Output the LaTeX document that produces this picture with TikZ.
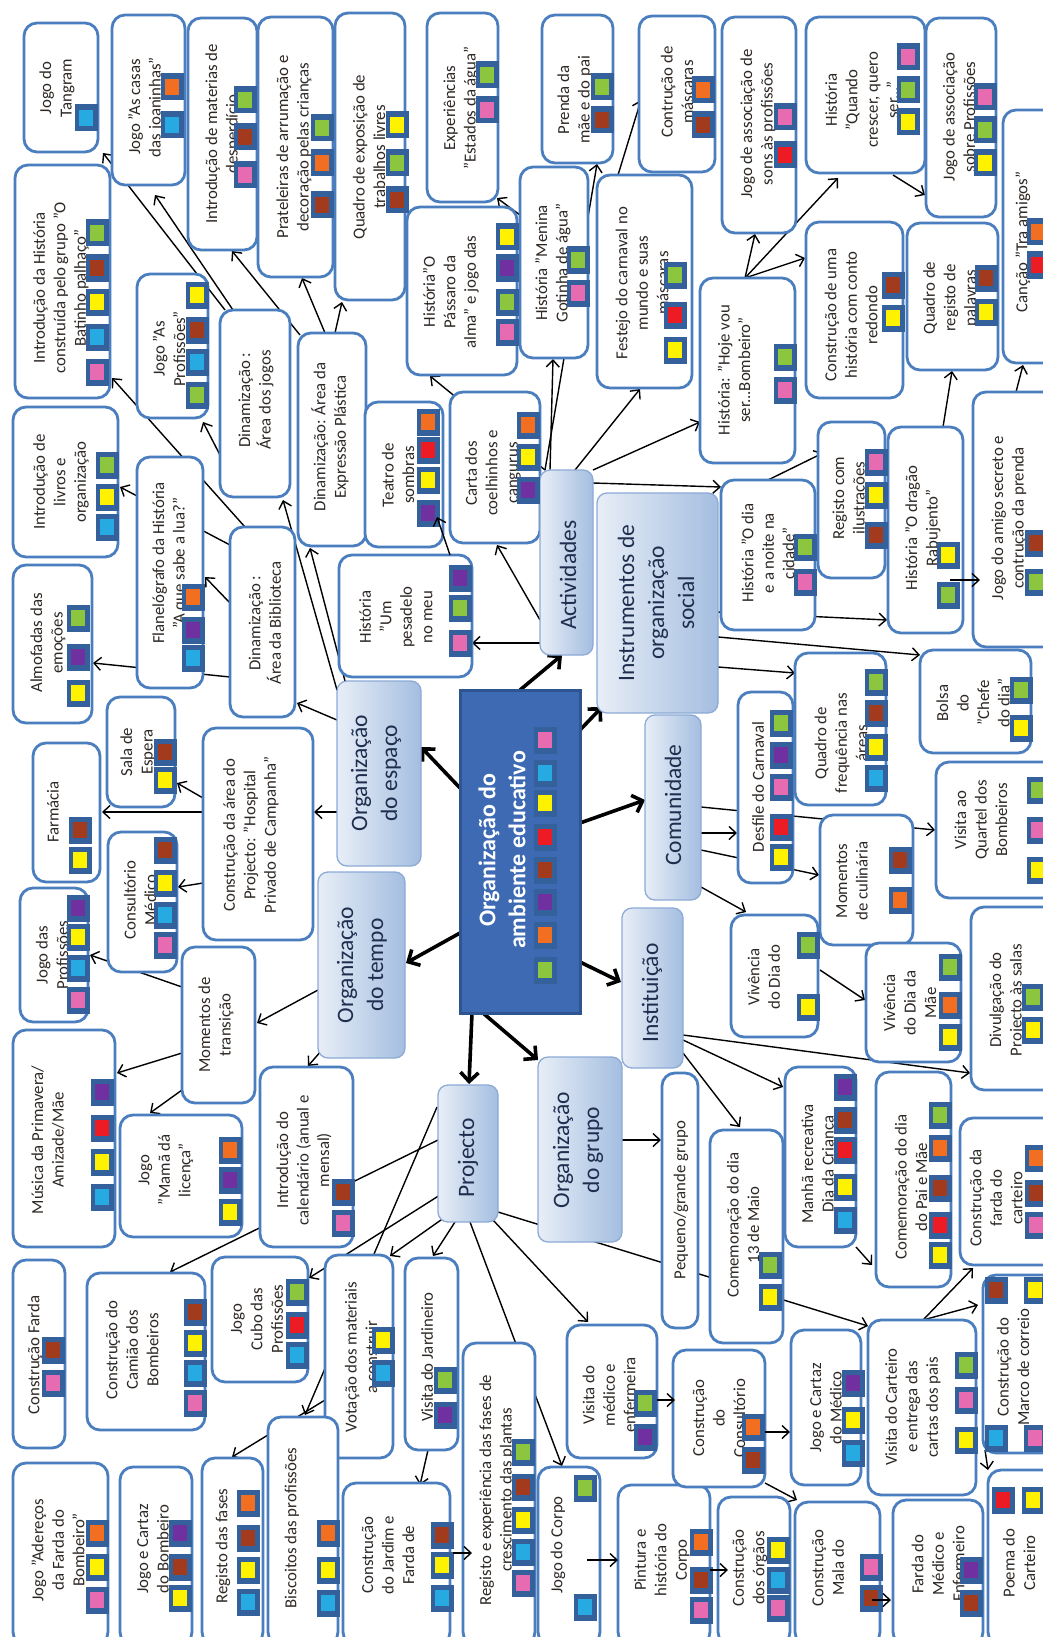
\documentclass[tikz,border=0pt]{standalone}
\usepackage{fontspec}
\setmainfont{Carlito}
\usetikzlibrary{arrows.meta,calc}
\pgfdeclarelayer{bg}
\pgfsetlayers{bg,main}
\definecolor{boxb}{HTML}{4A7EBF}
\definecolor{catL}{HTML}{E8EEF7}
\definecolor{catR}{HTML}{A4BEE0}
\definecolor{catB}{HTML}{8DAAD6}
\definecolor{cenF}{HTML}{3D6AB3}
\definecolor{cenB}{HTML}{2D5590}
\definecolor{sqf}{HTML}{34609B}
\definecolor{txtc}{HTML}{2E2824}
\definecolor{cattxt}{HTML}{1F2E4E}
\definecolor{cG}{HTML}{8CC63F}
\definecolor{cB}{HTML}{A23B1E}
\definecolor{cY}{HTML}{FFF200}
\definecolor{cC}{HTML}{27AAE1}
\definecolor{cP}{HTML}{E66BB0}
\definecolor{cR}{HTML}{ED1C24}
\definecolor{cV}{HTML}{7030A0}
\definecolor{cO}{HTML}{F26F21}
\tikzset{
 bxs/.style={draw=boxb, line width=2.8pt, rounded corners=13pt, fill=white, inner sep=0pt},
 bxt/.style={rotate=90, align=center, inner sep=0pt, text=txtc, font=\fontsize{16.8}{20.5}\selectfont},
 cats/.style={draw=catB, line width=1.3pt, rounded corners=10pt, left color=catL, right color=catR, inner sep=0pt},
 catt/.style={rotate=90, align=center, inner sep=0pt, text=cattxt, font=\fontsize{23.5}{30}\selectfont},
 cens/.style={draw=cenB, line width=3pt, fill=cenF, inner sep=0pt},
 cent/.style={rotate=90, align=center, inner sep=0pt, text=white, font=\fontsize{24}{30}\selectfont\bfseries},
 arr/.style={draw=black, line width=1.4pt, -{Straight Barb[length=7pt,width=13pt]}},
 tarr/.style={draw=black, line width=3.6pt, -{Straight Barb[length=9pt,width=18pt]}},
}
\newcommand\bx[8]{%
 \node[bxs, minimum width={(#4)-(#2)}, minimum height={(#5)-(#3)}] (#1) at ({((#2)+(#4))/2},{((#3)+(#5))/2}) {};
 \node[bxt] (#1-t) at (#6,#7) {#8};}
\newcommand\cat[8]{%
 \node[cats, minimum width={(#4)-(#2)}, minimum height={(#5)-(#3)}] (#1) at ({((#2)+(#4))/2},{((#3)+(#5))/2}) {};
 \node[catt] (#1-t) at (#6,#7) {#8};}
\newcommand\sq[3]{%
 \fill[sqf] ({#1-11.5},{#2-13.5}) rectangle ({#1+11.5},{#2+13.5});
 \fill[#3] ({#1-7},{#2-8}) rectangle ({#1+7},{#2+8});}
\newcommand\ar[6]{\draw[arr] ($(#1)+(#2,#3)$) -- ($(#4)+(#5,#6)$);}
\newcommand\tar[6]{\draw[tarr] ($(#1)+(#2,#3)$) -- ($(#4)+(#5,#6)$);}
\begin{document}
\begin{tikzpicture}[x=1pt,y=-1pt]
\useasboundingbox (0,0) rectangle (1043,1637);
% ---- boxes ----
\bx{tangram}{24}{23}{98}{152}{57}{88}{Jogo do\\Tangram}
\bx{casas}{112}{15}{185}{185}{146}{107}{Jogo "As casas\\das joaninhas"}
\bx{materiais}{188}{18}{257}{250}{223}{134}{Introdução de materias de\\desperdício}
\bx{prateleiras}{258}{17}{333}{277}{294}{147}{Prateleiras de arrumação e\\decoração pelas crianças}
\bx{quadroexp}{335}{13}{405}{300}{369}{157}{Quadro de exposição de\\trabalhos livres}
\bx{experiencias}{427}{13}{498}{202}{461}{108}{Experiências\\"Estados da água"}
\bx{prenda}{542}{15}{613}{163}{575}{100}{Prenda da\\mãe e do pai}
\bx{mascaras}{639}{16}{715}{172}{677}{92}{Contrução de\\máscaras}
\bx{sons}{722}{17}{796}{233}{758}{124}{Jogo de associação de\\sons às profissões}
\bx{crescer}{806}{17}{925}{173}{862}{100}{História\\"Quando\\crescer, quero\\ser..."}
\bx{assocprof}{926}{18}{996}{217}{959}{117}{Jogo de associação\\sobre Profissões}
\bx{cancao}{1003}{110}{1060}{363}{1023}{242}{Canção "Tra amigos"}
\bx{conto}{806}{222}{903}{398}{851}{315}{Construção de uma\\história com conto\\redondo}
\bx{quadroreg}{907}{223}{998}{370}{951}{298}{Quadro de\\registo de\\palavras}
\bx{hoje}{700}{278}{795}{463}{734}{370}{História: "Hoje vou\\ser...Bombeiro"}
\bx{introhist}{15}{165}{110}{398}{61}{288}{Introdução da História\\construída pelo grupo "O\\Batinho palhaço"}
\bx{asprof}{137}{274}{208}{418}{169}{349}{Jogo "As\\Profissões"}
\bx{dinjogos}{220}{310}{290}{497}{256}{400}{Dinamização :\\Área dos jogos}
\bx{dinplast}{298}{333}{366}{546}{330}{437}{Dinamização: Área da\\Expressão Plástica}
\bx{passaro}{407}{207}{517}{375}{451}{292}{História"O\\Pássaro da\\alma" e jogo das}
\bx{gotinha}{520}{167}{588}{358}{553}{263}{História "Menina\\Gotinha de água"}
\bx{festejo}{597}{175}{692}{388}{642}{283}{Festejo do carnaval no\\mundo e suas\\máscaras}
\bx{livros}{13}{407}{118}{557}{61}{482}{Introdução de\\livros e\\organização}
\bx{flanelo}{137}{457}{203}{688}{170}{563}{Flanelógrafo da História\\"A que sabe a lua?"}
\bx{almofadas}{13}{565}{92}{723}{48}{643}{Almofadas das\\emoções}
\bx{dinbib}{230}{527}{295}{717}{265}{623}{Dinamização :\\Área da Biblioteca}
\bx{teatro}{365}{402}{443}{547}{398}{475}{Teatro de\\sombras}
\bx{carta}{450}{392}{540}{543}{493}{473}{Carta dos\\coelhinhos e\\cangurus}
\bx{pesadelo}{339}{555}{472}{677}{396}{617}{História\\"Um\\pesadelo\\no meu}
\bx{diaenoite}{721}{480}{815}{630}{768}{553}{História "O dia\\e a noite na\\cidade"}
\bx{regilust}{818}{422}{885}{578}{850}{498}{Registo com\\ilustrações}
\bx{dragao}{888}{427}{963}{633}{923}{528}{História "O dragão\\Rabujento"}
\bx{amigo}{973}{392}{1060}{647}{1009}{518}{Jogo do amigo secreto e\\contrução da prenda}
\bx{bolsa}{920}{650}{1031}{753}{973}{703}{Bolsa\\do\\"Chefe\\do dia"}
\bx{frequencia}{795}{653}{886}{805}{841}{743}{Quadro de\\frequência nas\\áreas}
\bx{desfile}{738}{692}{793}{883}{758}{787}{Desfile do Carnaval}
\bx{quartel}{936}{762}{1060}{898}{981}{820}{Visita ao\\Quartel dos\\Bombeiros}
\bx{espera}{107}{697}{175}{807}{138}{752}{Sala de\\Espera}
\bx{farmacia}{33}{743}{100}{882}{53}{812}{Farmácia}
\bx{area}{203}{728}{313}{940}{251}{835}{Construção da área do\\Projecto: "Hospital\\Privado de Campanha"}
\bx{consultorio}{108}{832}{177}{972}{140}{900}{Consultório\\Médico}
\bx{jogodasprof}{20}{888}{88}{1022}{52}{955}{Jogo das\\Profissões}
\bx{transicao}{182}{947}{255}{1103}{216}{1025}{Momentos de\\transição}
\bx{culinaria}{820}{815}{913}{945}{852}{881}{Momentos\\de culinária}
\bx{vivpai}{731}{915}{818}{1037}{764}{977}{Vivência\\do Dia do}
\bx{vivmae}{866}{943}{961}{1062}{910}{1003}{Vivência\\do Dia da\\Mãe}
\bx{divulgacao}{971}{907}{1060}{1090}{1007}{1000}{Divulgação do\\Projecto às salas}
\bx{musica}{13}{1030}{115}{1247}{48}{1140}{Música da Primavera/\\Amizade/Mãe}
\bx{mama}{120}{1115}{242}{1237}{166}{1170}{Jogo\\"Mamã dá\\licença"}
\bx{calendario}{260}{1067}{353}{1247}{304}{1160}{Introdução do\\calendário (anual e\\mensal)}
\bx{manha}{785}{1067}{856}{1247}{819}{1164}{Manhã recreativa\\Dia da Criança}
\bx{comemoracao}{876}{1072}{951}{1287}{911}{1187}{Comemoração do dia\\do Pai e Mãe}
\bx{fardacarteiro}{960}{1118}{1060}{1265}{996}{1198}{Construção da\\farda do\\carteiro}
\bx{maio}{710}{1130}{783}{1343}{743}{1225}{Comemoração do dia\\13 de Maio}
\bx{pequeno}{662}{1073}{698}{1328}{681}{1200}{Pequeno/grande grupo}
\bx{fardaconst}{13}{1260}{65}{1448}{35}{1355}{Construção Farda}
\bx{camiao}{87}{1273}{205}{1430}{132}{1350}{Construção do\\Camião dos\\Bombeiros}
\bx{cubo}{212}{1257}{308}{1382}{257}{1319}{Jogo\\Cubo das\\Profissões}
\bx{votacao}{325}{1255}{393}{1458}{361}{1357}{Votação dos materiais\\a construir}
\bx{aderecos}{13}{1463}{108}{1645}{58}{1550}{Jogo "Adereços\\da Farda do\\Bombeiro"}
\bx{cartazbomb}{120}{1467}{192}{1645}{153}{1549}{Jogo e Cartaz\\do Bombeiro}
\bx{registofases}{202}{1458}{263}{1645}{223}{1546}{Registo das fases}
\bx{biscoitos}{268}{1417}{338}{1645}{292}{1528}{Biscoitos das profissões}
\bx{jardineiro}{405}{1258}{458}{1450}{427}{1357}{Visita do Jardineiro}
\bx{jardim}{343}{1483}{450}{1645}{388}{1555}{Construção\\do Jardim e\\Farda de}
\bx{plantas}{463}{1343}{535}{1645}{497}{1490}{Registo e experiência das fases de\\crescimento das plantas}
\bx{corpo}{538}{1467}{600}{1645}{558}{1545}{Jogo do Corpo}
\bx{medico}{567}{1325}{657}{1458}{609}{1395}{Visita do\\médico e\\enfermeira}
\bx{pintura}{618}{1485}{710}{1645}{662}{1560}{Pintura e\\história do\\Corpo}
\bx{constconsult}{673}{1350}{765}{1487}{719}{1418}{Construção\\do\\Consultório}
\bx{cartazmed}{791}{1330}{861}{1485}{826}{1408}{Jogo e Cartaz\\do Médico}
\bx{carteiro}{868}{1320}{976}{1495}{913}{1407}{Visita do Carteiro\\e entrega das\\cartas dos pais}
\bx{marco}{983}{1275}{1060}{1453}{1013}{1367}{Construção do\\Marco de correio}
\bx{orgaos}{718}{1497}{790}{1645}{750}{1568}{Construção\\dos órgãos}
\bx{mala}{795}{1502}{880}{1645}{828}{1568}{Construção\\Mala do}
\bx{fardamed}{893}{1500}{983}{1645}{938}{1564}{Farda do\\Médico e\\Enfermeiro}
\bx{poema}{988}{1470}{1060}{1645}{1019}{1563}{Poema do\\Carteiro}
% ---- categories ----
\cat{actividades}{540}{470}{593}{655}{568}{575}{Actividades}
\cat{instrumentos}{597}{493}{718}{713}{656}{603}{Instrumentos de\\organização\\social}
\cat{espaco}{337}{681}{421}{866}{376}{773}{Organização\\do espaço}
\cat{tempo}{318}{872}{405}{1058}{362}{965}{Organização\\do tempo}
\cat{comunidade}{645}{715}{701}{900}{673}{805}{Comunidade}
\cat{instituicao}{622}{908}{683}{1068}{652}{993}{Instituição}
\cat{projecto}{438}{1085}{498}{1222}{468}{1158}{Projecto}
\cat{grupo}{538}{1057}{622}{1242}{578}{1150}{Organização\\do grupo}
\node[cens, minimum width=120, minimum height=323] (central) at (520,851.5) {};
\node[cent] (central-t) at (502,850) {Organização do\\ambiente educativo};
% ---- squares ----
\sq{86}{118}{cC}
\sq{172}{87}{cO}\sq{172}{125}{cC}
\sq{245}{100}{cG}\sq{245}{137}{cB}\sq{245}{175}{cP}
\sq{322}{128}{cG}\sq{322}{163}{cO}\sq{322}{205}{cB}
\sq{397}{125}{cY}\sq{397}{163}{cG}\sq{397}{200}{cB}
\sq{487}{75}{cG}\sq{487}{110}{cP}
\sq{602}{87}{cG}\sq{602}{120}{cB}
\sq{703}{90}{cO}\sq{703}{125}{cB}
\sq{785}{117}{cP}\sq{785}{155}{cR}
\sq{908}{57}{cP}\sq{908}{90}{cG}\sq{908}{122}{cY}
\sq{985}{97}{cP}\sq{985}{130}{cG}\sq{985}{163}{cY}
\sq{1038}{232}{cO}\sq{1038}{265}{cR}
\sq{893}{285}{cB}\sq{893}{318}{cY}
\sq{986}{278}{cB}\sq{986}{312}{cY}
\sq{785}{357}{cG}\sq{785}{390}{cP}
\sq{97}{233}{cG}\sq{97}{268}{cB}\sq{97}{302}{cY}\sq{97}{337}{cC}\sq{97}{372}{cP}
\sq{197}{295}{cY}\sq{197}{330}{cB}\sq{197}{362}{cC}\sq{197}{395}{cG}
\sq{507}{237}{cY}\sq{507}{268}{cV}\sq{507}{302}{cG}\sq{507}{332}{cP}
\sq{578}{260}{cG}\sq{578}{293}{cP}
\sq{675}{275}{cG}\sq{675}{315}{cR}\sq{675}{350}{cY}
\sq{107}{465}{cG}\sq{107}{497}{cY}\sq{107}{527}{cC}
\sq{193}{597}{cO}\sq{193}{630}{cV}\sq{193}{658}{cC}
\sq{78}{618}{cG}\sq{78}{657}{cV}\sq{78}{693}{cY}
\sq{428}{422}{cO}\sq{428}{450}{cR}\sq{428}{480}{cY}\sq{428}{513}{cV}
\sq{528}{425}{cO}\sq{528}{457}{cY}\sq{528}{490}{cV}
\sq{460}{578}{cV}\sq{460}{608}{cG}\sq{460}{643}{cP}
\sq{805}{547}{cG}\sq{805}{582}{cP}
\sq{876}{462}{cP}\sq{876}{495}{cY}\sq{876}{535}{cB}
\sq{948}{555}{cY}\sq{948}{595}{cG}
\sq{1036}{543}{cB}\sq{1036}{582}{cG}
\sq{1021}{690}{cG}\sq{1021}{728}{cY}
\sq{876}{682}{cG}\sq{876}{713}{cB}\sq{876}{747}{cY}\sq{876}{778}{cC}
\sq{781}{723}{cG}\sq{781}{755}{cV}\sq{781}{787}{cP}\sq{781}{827}{cR}\sq{781}{857}{cY}
\sq{1038}{790}{cG}\sq{1038}{830}{cP}\sq{1038}{870}{cY}
\sq{165}{752}{cB}\sq{165}{780}{cY}
\sq{80}{830}{cB}\sq{80}{860}{cY}
\sq{165}{850}{cB}\sq{165}{883}{cY}\sq{165}{915}{cC}\sq{165}{945}{cP}
\sq{78}{908}{cV}\sq{78}{937}{cY}\sq{78}{968}{cC}\sq{78}{1000}{cP}
\sq{545}{740}{cP}\sq{545}{773}{cC}\sq{545}{803}{cY}\sq{545}{837}{cR}\sq{545}{870}{cB}\sq{545}{902}{cV}\sq{545}{935}{cO}\sq{545}{970}{cG}
\sq{900}{860}{cB}\sq{900}{900}{cO}
\sq{808}{945}{cG}\sq{808}{1007}{cY}
\sq{950}{967}{cG}\sq{950}{1005}{cO}\sq{950}{1037}{cY}
\sq{1033}{997}{cG}\sq{1033}{1030}{cY}
\sq{102}{1092}{cV}\sq{102}{1128}{cR}\sq{102}{1162}{cY}\sq{102}{1197}{cC}
\sq{230}{1150}{cO}\sq{230}{1180}{cV}\sq{230}{1212}{cY}
\sq{343}{1192}{cB}\sq{343}{1223}{cP}
\sq{845}{1087}{cV}\sq{845}{1120}{cB}\sq{845}{1150}{cR}\sq{845}{1187}{cY}\sq{845}{1220}{cC}
\sq{940}{1115}{cG}\sq{940}{1148}{cO}\sq{940}{1188}{cB}\sq{940}{1225}{cR}\sq{940}{1255}{cY}
\sq{1036}{1158}{cO}\sq{1036}{1193}{cB}\sq{1036}{1225}{cP}
\sq{770}{1265}{cG}\sq{770}{1297}{cY}
\sq{53}{1350}{cB}\sq{53}{1383}{cP}
\sq{195}{1312}{cB}\sq{195}{1343}{cY}\sq{195}{1373}{cC}\sq{195}{1403}{cP}
\sq{297}{1292}{cG}\sq{297}{1325}{cR}\sq{297}{1355}{cC}
\sq{383}{1340}{cY}\sq{383}{1373}{cC}
\sq{97}{1533}{cO}\sq{97}{1567}{cY}\sq{97}{1600}{cP}
\sq{180}{1533}{cV}\sq{180}{1567}{cB}\sq{180}{1598}{cY}
\sq{248}{1503}{cO}\sq{248}{1538}{cB}\sq{248}{1570}{cY}\sq{248}{1602}{cC}
\sq{328}{1533}{cO}\sq{328}{1570}{cY}\sq{328}{1603}{cC}
\sq{445}{1380}{cG}\sq{445}{1415}{cV}
\sq{442}{1535}{cB}\sq{442}{1565}{cY}\sq{442}{1598}{cC}
\sq{523}{1452}{cG}\sq{523}{1487}{cB}\sq{523}{1520}{cY}\sq{523}{1552}{cC}\sq{523}{1583}{cP}
\sq{585}{1488}{cG}\sq{585}{1607}{cC}
\sq{645}{1403}{cG}\sq{645}{1437}{cV}
\sq{701}{1542}{cO}\sq{701}{1580}{cB}\sq{701}{1610}{cP}
\sq{753}{1427}{cO}\sq{753}{1460}{cB}
\sq{853}{1383}{cV}\sq{853}{1420}{cY}\sq{853}{1453}{cC}
\sq{966}{1365}{cG}\sq{966}{1400}{cP}\sq{966}{1440}{cY}
\sq{996}{1290}{cB}\sq{1035}{1290}{cY}\sq{996}{1438}{cC}\sq{1035}{1438}{cP}
\sq{778}{1550}{cY}\sq{778}{1580}{cC}\sq{778}{1608}{cP}
\sq{871}{1567}{cP}\sq{871}{1598}{cB}
\sq{971}{1570}{cV}\sq{971}{1603}{cB}
\sq{1003}{1500}{cR}\sq{1033}{1500}{cY}
% ---- short arrows on top ----
\ar{pesadelo}{44.5}{-61}{teatro}{33}{42.5}
\ar{dragao}{24.5}{50}{amigo}{-36.5}{60.5}
\ar{jardim}{56.5}{-11}{plantas}{-27}{59}
\ar{corpo}{18}{4}{pintura}{-46}{-5}
\ar{medico}{45}{8.5}{constconsult}{-44}{-18.5}
\ar{constconsult}{46}{13.5}{cartazmed}{-36}{24.5}
\ar{pintura}{46}{5}{orgaos}{-26}{-1}
\ar{mala}{34.5}{26.5}{fardamed}{-47}{27.5}
% ---- connectors under boxes ----
\begin{pgfonlayer}{bg}
\fill[white] (0,0) rectangle (1043,1637);
\tar{central}{0}{-161.5}{actividades}{-4.5}{92.5}
\tar{central}{-60}{-63.5}{espaco}{42}{-26.5}
\tar{central}{60}{-121.5}{instrumentos}{-55.5}{104}
\tar{central}{60}{-28.5}{comunidade}{-28}{-7.5}
\tar{central}{60}{110.5}{instituicao}{-31.5}{-6}
\tar{central}{-60}{81.5}{tempo}{44.5}{-2}
\tar{central}{-48}{161.5}{projecto}{1}{-69.5}
\tar{central}{-37}{161.5}{grupo}{-42}{-89.5}
\ar{actividades}{-21.5}{-92.5}{passaro}{-32}{85}
\ar{actividades}{-16.5}{-92.5}{gotinha}{-1}{96.5}
\ar{actividades}{-21.5}{-92.5}{prenda}{19.5}{75}
\ar{actividades}{8.5}{-92.5}{festejo}{-4.5}{107.5}
\ar{actividades}{26.5}{-92.5}{hoje}{-47.5}{51.5}
\ar{actividades}{26.5}{-79.5}{diaenoite}{-47}{-68}
\ar{actividades}{-26.5}{57.5}{carta}{2}{77.5}
\ar{actividades}{-26.5}{80.5}{pesadelo}{66.5}{27}
\ar{gotinha}{-34}{-47.5}{experiencias}{34.5}{90.5}
\ar{festejo}{-26.5}{-106.5}{mascaras}{-36}{6}
\ar{hoje}{-2.5}{-92.5}{sons}{-4}{109}
\ar{hoje}{-2.5}{-92.5}{crescer}{-27.5}{83}
\ar{hoje}{-2.5}{-92.5}{conto}{-49.5}{-52}
\ar{crescer}{27.5}{80}{assocprof}{-36}{77.5}
\ar{dragao}{17.5}{-103}{quadroreg}{-0.5}{74.5}
\ar{amigo}{-0.5}{-127.5}{cancao}{-8.5}{128.5}
\ar{diaenoite}{0}{-75}{regilust}{-28.5}{-47}
\ar{instrumentos}{60.5}{9}{dragao}{-38.5}{90}
\ar{instrumentos}{60.5}{34}{bolsa}{-55.5}{-46.5}
\ar{instrumentos}{60.5}{64}{frequencia}{-45.5}{-56}
\ar{espaco}{-42}{-53.5}{dinbib}{34.5}{81}
\ar{espaco}{-42}{-83.5}{dinjogos}{28}{96.5}
\ar{espaco}{-34}{-92.5}{dinplast}{-22}{108.5}
\ar{espaco}{-42}{38.5}{area}{56}{-22}
\ar{dinjogos}{-30}{-93.5}{tangram}{42}{65.5}
\ar{dinjogos}{-22}{-93.5}{casas}{6.5}{95}
\ar{dinjogos}{-35}{51.5}{asprof}{30.5}{76}
\ar{dinplast}{-32}{-104.5}{materiais}{9.5}{117}
\ar{dinplast}{-7}{-106.5}{prateleiras}{6.5}{131}
\ar{dinplast}{3}{-106.5}{quadroexp}{-28}{145.5}
\ar{dinbib}{-17.5}{-95}{introhist}{49.5}{96.5}
\ar{dinbib}{-32.5}{-77}{livros}{54.5}{5}
\ar{dinbib}{-32.5}{-19}{flanelo}{35}{4.5}
\ar{dinbib}{-32.5}{55}{almofadas}{40.5}{19}
\ar{area}{-55}{-36}{espera}{36}{31}
\ar{area}{-55}{-22}{farmacia}{35.5}{-0.5}
\ar{area}{-55}{49}{consultorio}{35.5}{-15}
\ar{tempo}{-43.5}{25}{transicao}{38.5}{-2}
\ar{tempo}{-39.5}{85}{calendario}{1.5}{-91}
\ar{transicao}{-36.5}{-38}{jogodasprof}{36}{0}
\ar{transicao}{-36.5}{28}{musica}{53}{-65.5}
\ar{transicao}{-36.5}{65}{mama}{-31}{-63}
\ar{projecto}{-30}{-13.5}{camiao}{24}{-79.5}
\ar{projecto}{-31}{-46.5}{biscoitos}{2}{-116}
\ar{projecto}{-28}{41.5}{cubo}{49}{-41.5}
\ar{projecto}{-20}{61.5}{votacao}{31}{-100.5}
\ar{projecto}{-13}{68.5}{jardineiro}{1.5}{-98}
\ar{votacao}{-34}{43.5}{registofases}{-0.5}{-94.5}
\ar{projecto}{25}{66.5}{medico}{-24}{-69.5}
\ar{projecto}{2}{68.5}{corpo}{-7}{-90}
\ar{projecto}{30}{58.5}{carteiro}{-54}{-81.5}
\ar{grupo}{42}{-9.5}{pequeno}{-19}{-60.5}
\ar{jardineiro}{-3.5}{96}{jardim}{23.5}{-79}
\ar{constconsult}{46}{64.5}{mala}{-40.5}{-73.5}
\ar{carteiro}{1}{-87.5}{marco}{-43.5}{-59}
\ar{carteiro}{1}{-87.5}{fardacarteiro}{-37}{76.5}
\ar{marco}{-36.5}{86}{poema}{-36}{-87.5}
\ar{manha}{35.5}{90}{comemoracao}{-41.5}{85.5}
\ar{comunidade}{28}{25.5}{desfile}{-28.5}{45.5}
\ar{comunidade}{28}{42.5}{culinaria}{-47.5}{-5}
\ar{comunidade}{28}{-0.5}{quartel}{-63}{0}
\ar{comunidade}{28}{79.5}{vivpai}{-28.5}{-64}
\ar{vivpai}{45.5}{-6}{vivmae}{-48.5}{-2.5}
\ar{instituicao}{30.5}{47}{divulgacao}{-45.5}{74.5}
\ar{instituicao}{30.5}{52}{manha}{-37.5}{-70}
\ar{instituicao}{30.5}{65}{maio}{-6.5}{-109.5}
\end{pgfonlayer}
\end{tikzpicture}
\end{document}
